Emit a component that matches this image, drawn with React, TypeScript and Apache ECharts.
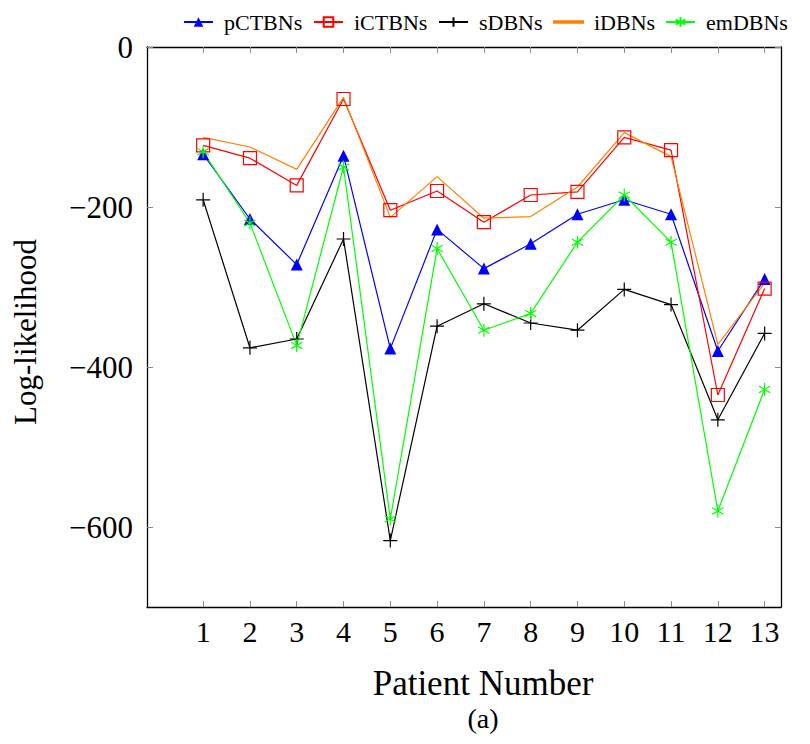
import React, { useEffect, useRef } from "react";
import * as echarts from "echarts";

const patients = [1, 2, 3, 4, 5, 6, 7, 8, 9, 10, 11, 12, 13];
const pCTBNs = [-134, -215, -272, -136, -377, -228, -277, -246, -209, -191, -209, -380, -290];
const iCTBNs = [-123, -139, -173, -65, -204, -180, -219, -185, -181, -113, -129, -435, -302];
const sDBNs = [-191, -376, -365, -240, -617, -349, -321, -345, -354, -303, -322, -466, -358];
const iDBNs = [-113, -125, -153, -63, -213, -162, -214, -212, -175, -107, -137, -372, -295];
const emDBNs = [-131, -220, -373, -150, -590, -252, -354, -333, -244, -185, -244, -580, -428];
const yTicks = [0, -200, -400, -600];

const FONT = '"Liberation Serif", "Times New Roman", serif';
const PLUS = "path://M0,-1L0,1M-1,0L1,0";
const ASTER = "path://M0,-1L0,1M-0.866,-0.5L0.866,0.5M-0.866,0.5L0.866,-0.5";
const SQUARE = "path://M-1,-1L1,-1L1,1L-1,1Z";

const pairs = (vals: number[]) => patients.map((p, i) => [p, vals[i]]);

export default function App() {
  const ref = useRef<HTMLDivElement>(null);
  useEffect(() => {
    if (!ref.current) return;
    const chart = echarts.init(ref.current, null, { renderer: "svg" });
    const tickStyle = { show: true, inside: true, length: 6, lineStyle: { color: "#8a8a8a", width: 1 } };
    const axisLine = { show: true, onZero: false, lineStyle: { color: "#000", width: 1.3 } };
    const mk = (name: string, data: number[], color: string, symbol: string, size: number, fill: string) => ({
      name,
      type: "line",
      data: pairs(data),
      symbol,
      symbolSize: size,
      symbolKeepAspect: true,
      showSymbol: symbol !== "none",
      lineStyle: { color, width: 1.2 },
      itemStyle: { color: fill, borderColor: color, borderWidth: symbol === "triangle" ? 0 : 1.2 },
      emphasis: { disabled: true },
    });
    const legendPos = [178, 308, 433, 548, 660];
    const names = ["pCTBNs", "iCTBNs", "sDBNs", "iDBNs", "emDBNs"];
    chart.setOption({
      animation: false,
      backgroundColor: "#fff",
      grid: { left: 147, right: 29, top: 47, bottom: 137 },
      legend: names.map((n, i) => ({
        data: n === "iDBNs" ? [{ name: n, icon: "rect", itemStyle: { color: "#ff8000" } }] : [n],
        left: legendPos[i],
        top: 6,
        itemWidth: 29,
        itemHeight: n === "iDBNs" ? 1.5 : 12,
        selectedMode: false,
        textStyle: { fontFamily: FONT, fontSize: 22, color: "#000", padding: [0, 0, 0, 6] },
      })),
      xAxis: [
        {
          type: "value",
          min: -0.2,
          max: 13.35,
          position: "bottom",
          axisLine,
          axisTick: { ...tickStyle, customValues: patients },
          axisLabel: { customValues: patients, fontFamily: FONT, fontSize: 30, color: "#000", margin: 9 },
          splitLine: { show: false },
        },
        {
          type: "value",
          min: -0.2,
          max: 13.35,
          position: "top",
          axisLine,
          axisTick: { ...tickStyle, customValues: patients },
          axisLabel: { show: false },
          splitLine: { show: false },
        },
      ],
      yAxis: [
        {
          type: "value",
          min: -700,
          max: 0,
          position: "left",
          axisLine,
          axisTick: { ...tickStyle, customValues: yTicks },
          axisLabel: {
            customValues: yTicks,
            fontFamily: FONT,
            fontSize: 31,
            color: "#000",
            margin: 14,
            formatter: (v: number) => String(v).replace("-", "\u2212"),
          },
          splitLine: { show: false },
        },
        {
          type: "value",
          min: -700,
          max: 0,
          position: "right",
          axisLine,
          axisTick: { ...tickStyle, customValues: yTicks },
          axisLabel: { show: false },
          splitLine: { show: false },
        },
      ],
      series: [
        mk("pCTBNs", pCTBNs, "#0000ff", "triangle", 12, "#0000ff"),
        mk("iCTBNs", iCTBNs, "#ff0000", SQUARE, 13, "rgba(0,0,0,0)"),
        mk("sDBNs", sDBNs, "#000000", PLUS, 14, "rgba(0,0,0,0)"),
        mk("iDBNs", iDBNs, "#ff8000", "none", 0, "#ff8000"),
        mk("emDBNs", emDBNs, "#00ff00", ASTER, 13, "rgba(0,0,0,0)"),
      ],
      graphic: [
        {
          type: "text",
          x: 25,
          y: 332,
          rotation: Math.PI / 2,
          style: { text: "Log-likelihood", font: `31px ${FONT}`, fill: "#000", align: "center", verticalAlign: "middle" },
        },
        {
          type: "text",
          x: 483,
          y: 683,
          style: { text: "Patient Number", font: `35px ${FONT}`, fill: "#000", align: "center", verticalAlign: "middle" },
        },
        {
          type: "text",
          x: 483,
          y: 718,
          style: { text: "(a)", font: `28px ${FONT}`, fill: "#000", align: "center", verticalAlign: "middle" },
        },
      ],
    });
    return () => chart.dispose();
  }, []);
  return <div ref={ref} style={{ position: "fixed", left: 0, top: 0, width: 810, height: 744 }} />;
}
